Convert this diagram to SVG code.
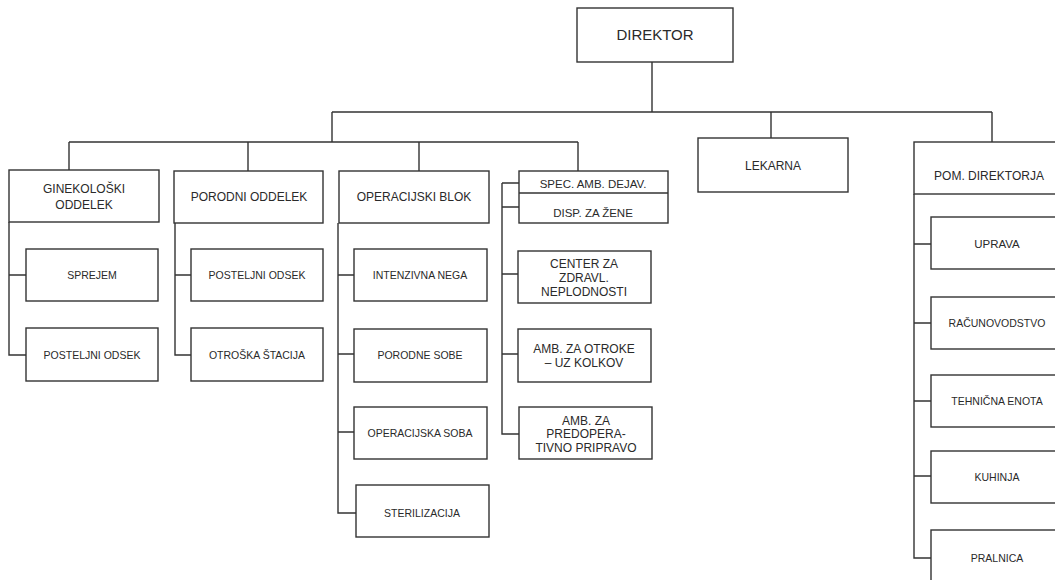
<svg xmlns="http://www.w3.org/2000/svg" width="1055" height="580" viewBox="0 0 1055 580">
<style>
rect{fill:#fff;stroke:#333;stroke-width:1.4}
.c path,.c line{stroke:#333;stroke-width:1.4;fill:none}
text{font-family:"Liberation Sans",Arial,sans-serif;fill:#2a2a2a;text-anchor:middle}
.t{font-size:12px}
.s{font-size:10.5px}
.m{font-size:12px}
</style>
<rect x="0" y="0" width="1055" height="580" style="stroke:none;fill:#fff"/>
<g class="c" id="connectors">
<path d="M652 62V112M332 112H992M332 112V142M771 112V138M992 112V142"/>
<path d="M69 142H578M69 142V170M248 142V171M419 142V171M578 142V171"/>
<path d="M9 222V355H26M9 275H26"/>
<path d="M175 223V355H191M175 275H191"/>
<path d="M338 223V513H356M338 275H354M338 354H354M338 432H354"/>
<path d="M502 183V434H519M502 183H519M502 207H519M502 274H518M502 354H518"/>
<path d="M914 194V558H931M914 244H931M914 323H931M914 401H931M914 476H931"/>
</g>
<g id="direktor"><rect x="577" y="8" width="156" height="54"/><text x="655" y="40" style="font-size:15px">DIREKTOR</text></g>
<g id="lekarna"><rect x="698" y="138" width="150" height="54"/><text class="t" x="773" y="170">LEKARNA</text></g>
<g id="pom"><rect x="914" y="142" width="150" height="52"/><text class="t" x="989" y="180">POM. DIREKTORJA</text></g>
<g id="ginek"><rect x="9" y="170" width="150" height="52"/><text class="t" x="84" y="193">GINEKOLOŠKI</text><text class="t" x="84" y="209">ODDELEK</text></g>
<g id="porodni"><rect x="174" y="171" width="149" height="52"/><text class="t" x="249" y="201">PORODNI ODDELEK</text></g>
<g id="oper"><rect x="339" y="171" width="150" height="52"/><text class="t" x="414" y="201">OPERACIJSKI BLOK</text></g>
<g id="spec"><rect x="519" y="171" width="149" height="52"/><line x1="519" y1="193" x2="668" y2="193" style="stroke:#333;stroke-width:1.4"/><text class="s" x="593" y="188" style="font-size:11.5px">SPEC. AMB. DEJAV.</text><text class="s" x="593" y="217" style="font-size:11.5px">DISP. ZA ŽENE</text></g>
<g id="sprejem"><rect x="26" y="249" width="132" height="52"/><text class="s" x="92" y="279">SPREJEM</text></g>
<g id="posteljni1"><rect x="26" y="328" width="132" height="53"/><text class="s" x="92" y="359">POSTELJNI ODSEK</text></g>
<g id="posteljni2"><rect x="191" y="249" width="132" height="52"/><text class="s" x="257" y="279">POSTELJNI ODSEK</text></g>
<g id="otroska"><rect x="191" y="328" width="132" height="53"/><text class="s" x="257" y="359">OTROŠKA ŠTACIJA</text></g>
<g id="intenzivna"><rect x="354" y="249" width="133" height="52"/><text class="s" x="420" y="279">INTENZIVNA NEGA</text></g>
<g id="porodne"><rect x="354" y="329" width="133" height="53"/><text class="s" x="420" y="359">PORODNE SOBE</text></g>
<g id="opsoba"><rect x="354" y="407" width="133" height="52"/><text class="s" x="420" y="437">OPERACIJSKA SOBA</text></g>
<g id="steril"><rect x="356" y="485" width="133" height="52"/><text class="s" x="422" y="517">STERILIZACIJA</text></g>
<g id="center"><rect x="518" y="251" width="133" height="52"/><text class="m" x="584" y="268">CENTER ZA</text><text class="m" x="584" y="282">ZDRAVL.</text><text class="m" x="584" y="296">NEPLODNOSTI</text></g>
<g id="ambotroke"><rect x="518" y="329" width="133" height="53"/><text class="m" x="584" y="353">AMB. ZA OTROKE</text><text class="m" x="584" y="367">– UZ KOLKOV</text></g>
<g id="ambpred"><rect x="519" y="407" width="133" height="52"/><text class="m" x="586" y="425">AMB. ZA</text><text class="m" x="586" y="438">PREDOPERA-</text><text class="m" x="586" y="452">TIVNO PRIPRAVO</text></g>
<g id="uprava"><rect x="931" y="217" width="133" height="52"/><text class="s" x="997" y="248" style="font-size:11.5px">UPRAVA</text></g>
<g id="racun"><rect x="931" y="297" width="133" height="52"/><text class="s" x="997" y="327">RAČUNOVODSTVO</text></g>
<g id="tehnicna"><rect x="931" y="375" width="133" height="52"/><text class="s" x="997" y="405">TEHNIČNA ENOTA</text></g>
<g id="kuhinja"><rect x="931" y="451" width="133" height="52"/><text class="s" x="997" y="481">KUHINJA</text></g>
<g id="pralnica"><rect x="931" y="530" width="133" height="60"/><text class="s" x="997" y="562">PRALNICA</text></g>
</svg>
